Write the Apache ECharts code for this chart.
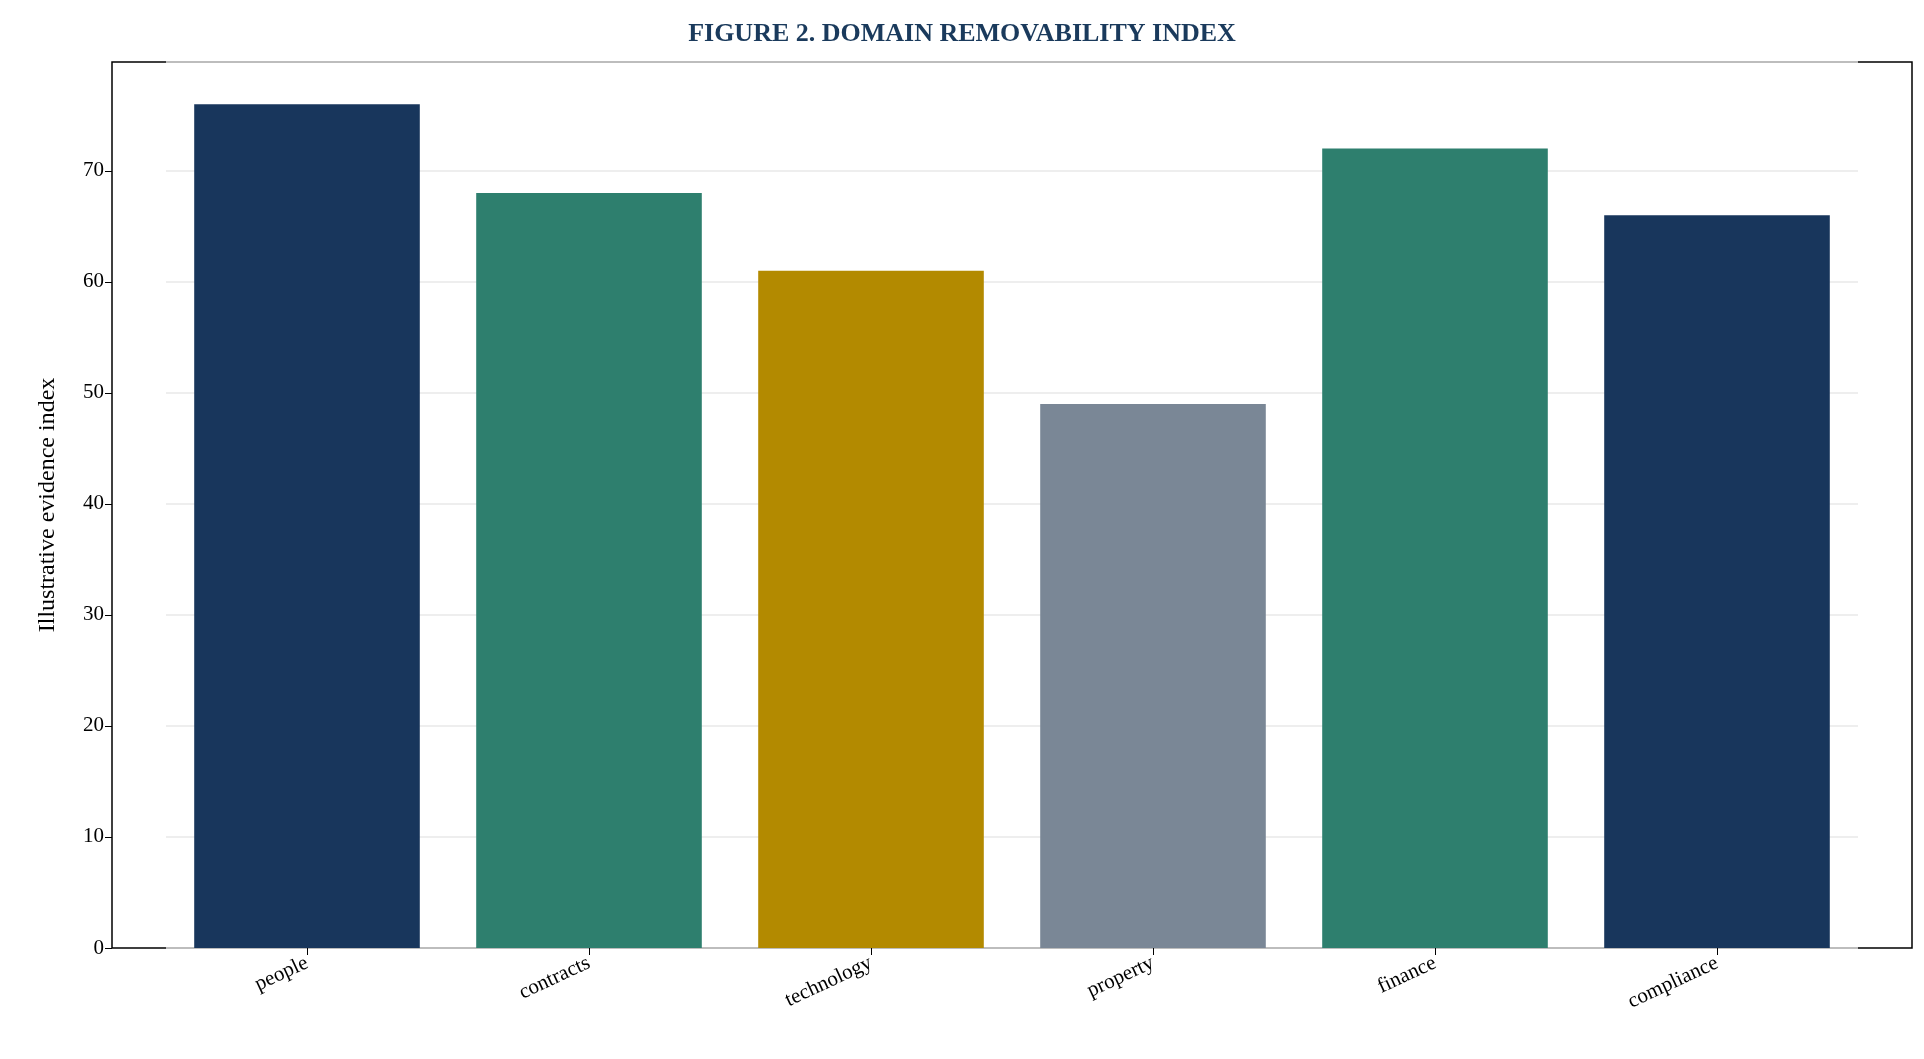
<!DOCTYPE html>
<html><head><meta charset="utf-8">
<script src="https://cdn.jsdelivr.net/npm/echarts@6/dist/echarts.min.js"></script>
<style>html,body{margin:0;padding:0;background:#fff}#c{width:1924px;height:1059px}</style>
</head><body><div id="c"></div>
<script>
const categories = ['people','contracts','technology','property','finance','compliance'];
const values = [76, 68, 61, 49, 72, 66];
const colors = ['#18365c','#2e7f6e','#b38a00','#7a8796','#2e7f6e','#18365c'];
const yTicks = [0,10,20,30,40,50,60,70];
const F = 'Liberation Serif, Times New Roman, serif';
const chart = echarts.init(document.getElementById('c'));
chart.setOption({
  backgroundColor:'#fff',
  animation:false,
  title:{text:'FIGURE 2. DOMAIN REMOVABILITY INDEX',left:'center',top:16,
    textStyle:{fontFamily:F,fontWeight:'bold',fontSize:26,color:'#1a3a5c'}},
  grid:[
    {left:166,right:66,top:62,bottom:111,containLabel:false},
    {left:112,right:12,top:62,bottom:111,show:true,borderColor:'#000',borderWidth:1.5,backgroundColor:'transparent'}
  ],
  xAxis:[
    {type:'category',gridIndex:0,data:categories,boundaryGap:true,
     axisLine:{show:false},axisTick:{show:true,alignWithLabel:true,length:7,lineStyle:{color:'#000'}},
     axisLabel:{rotate:25,fontFamily:F,fontSize:21,color:'#000',margin:14}},
    {type:'value',gridIndex:1,show:false,min:0,max:1}
  ],
  yAxis:[
    {type:'value',gridIndex:0,min:0,max:79.8,interval:10,offset:54,
     name:'Illustrative evidence index',nameLocation:'middle',nameGap:52,
     nameTextStyle:{fontFamily:F,fontSize:24,color:'#000'},
     axisLine:{show:false},axisTick:{show:true,length:7,lineStyle:{color:'#000'}},
     axisLabel:{fontFamily:F,fontSize:21,color:'#000',showMaxLabel:false,formatter:v=>yTicks.includes(v)?String(v):''},
     splitLine:{show:true,lineStyle:{color:'#e8e8e8',width:1.5}}},
    {type:'value',gridIndex:1,show:false,min:0,max:1}
  ],
  series:[{type:'bar',xAxisIndex:0,yAxisIndex:0,barWidth:'80%',
    data:values.map((v,i)=>({value:v,itemStyle:{color:colors[i]}}))}]
});
</script></body></html>
